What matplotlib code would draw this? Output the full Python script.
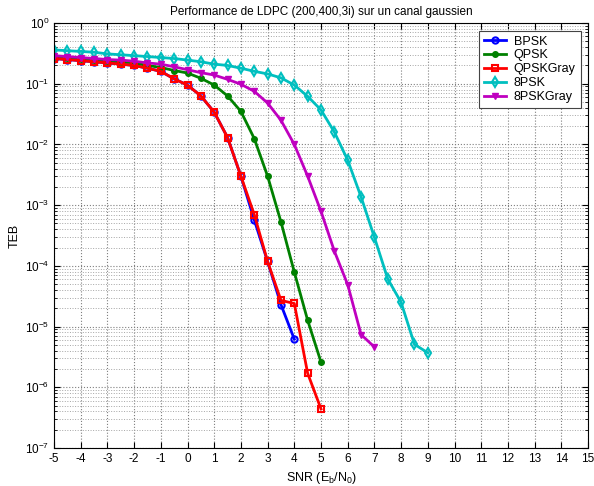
import numpy as np
import matplotlib
matplotlib.use("Agg")
import matplotlib.pyplot as plt

plt.rcParams['font.family'] = ['Liberation Sans', 'DejaVu Sans']
plt.rcParams['mathtext.default'] = 'regular'

snr_bpsk = [-5, -4.5, -4, -3.5, -3, -2.5, -2, -1.5, -1, -0.5, 0, 0.5, 1, 1.5, 2, 2.5, 3, 3.5, 4]
teb_bpsk = [0.26, 0.25, 0.24, 0.23, 0.22, 0.21, 0.2, 0.18, 0.16, 0.12, 0.095, 0.063, 0.034, 0.013,
            3.0e-3, 5.7e-4, 1.18e-4, 2.3e-5, 6.2e-6]

snr_qpsk = [-5, -4.5, -4, -3.5, -3, -2.5, -2, -1.5, -1, -0.5, 0, 0.5, 1, 1.5, 2, 2.5, 3, 3.5, 4, 4.5, 5]
teb_qpsk = [0.28, 0.27, 0.26, 0.25, 0.24, 0.23, 0.22, 0.2, 0.185, 0.165, 0.15, 0.123, 0.095, 0.063,
            0.035, 0.0125, 3.0e-3, 5.3e-4, 7.9e-5, 1.27e-5, 2.6e-6]

snr_qpskgray = [-5, -4.5, -4, -3.5, -3, -2.5, -2, -1.5, -1, -0.5, 0, 0.5, 1, 1.5, 2, 2.5, 3, 3.5, 4, 4.5, 5]
teb_qpskgray = [0.26, 0.25, 0.24, 0.23, 0.22, 0.21, 0.2, 0.18, 0.16, 0.12, 0.095, 0.063, 0.034, 0.013,
                3.0e-3, 7.0e-4, 1.18e-4, 2.7e-5, 2.4e-5, 1.7e-6, 4.4e-7]

snr_8psk = [-5, -4.5, -4, -3.5, -3, -2.5, -2, -1.5, -1, -0.5, 0, 0.5, 1, 1.5, 2, 2.5, 3, 3.5, 4,
            4.5, 5, 5.5, 6, 6.5, 7, 7.5, 8, 8.5, 9]
teb_8psk = [0.36, 0.35, 0.34, 0.33, 0.31, 0.30, 0.29, 0.28, 0.27, 0.26, 0.245, 0.23, 0.21, 0.20,
            0.18, 0.16, 0.145, 0.125, 0.095, 0.062, 0.037, 0.016, 5.5e-3, 1.37e-3, 2.95e-4,
            6.1e-5, 2.5e-5, 5.1e-6, 3.7e-6]

snr_8pskgray = [-5, -4.5, -4, -3.5, -3, -2.5, -2, -1.5, -1, -0.5, 0, 0.5, 1, 1.5, 2, 2.5, 3, 3.5, 4,
                4.5, 5, 5.5, 6, 6.5, 7]
teb_8pskgray = [0.29, 0.28, 0.27, 0.26, 0.25, 0.245, 0.235, 0.22, 0.21, 0.19, 0.17, 0.152, 0.139,
                0.118, 0.098, 0.075, 0.048, 0.025, 0.01, 3.0e-3, 7.9e-4, 1.75e-4, 4.9e-5, 7.4e-6, 4.6e-6]

x_ticks = list(range(-5, 16))
title = "Performance de LDPC (200,400,3i) sur un canal gaussien"

fig = plt.figure(figsize=(5.94, 4.86), dpi=100)
ax = fig.add_axes([54/594, 1 - 448/486, 534/594, 425/486])

lw = 2
ax.semilogy(snr_bpsk, teb_bpsk, '-o', color=(0, 0, 1), lw=lw, ms=4.5, mfc='none', mew=1.5, label='BPSK')
ax.semilogy(snr_qpsk, teb_qpsk, '-o', color=(0, 0.5, 0), lw=lw, ms=4, mfc=(0, 0.5, 0), label='QPSK')
ax.semilogy(snr_qpskgray, teb_qpskgray, '-s', color=(1, 0, 0), lw=lw, ms=4.5, mfc='none', mew=1.5, label='QPSKGray')
ax.semilogy(snr_8psk, teb_8psk, '-d', color=(0, 0.75, 0.75), lw=lw, ms=5, mfc='none', mew=1.5, label='8PSK')
ax.semilogy(snr_8pskgray, teb_8pskgray, '-v', color=(0.75, 0, 0.75), lw=lw, ms=5, mfc=(0.75, 0, 0.75), label='8PSKGray')

ax.set_xlim(-5, 15)
ax.set_ylim(1e-7, 1)
ax.set_xticks(x_ticks)
ax.set_xticklabels([str(t) for t in x_ticks])
ax.set_yticks([10.0**k for k in range(-7, 1)])
ax.yaxis.set_minor_locator(matplotlib.ticker.LogLocator(base=10, subs=np.arange(2, 10), numticks=20))
ax.yaxis.set_minor_formatter(matplotlib.ticker.NullFormatter())

ax.grid(True, which='major', linestyle=':', color='#7f7f7f', lw=0.8)
ax.grid(True, which='minor', axis='y', linestyle=':', color='#a5a5a5', lw=0.7)
ax.tick_params(which='both', direction='in', top=True, right=True, labelsize=8.5)
ax.tick_params(which='major', length=4)
ax.tick_params(which='minor', length=2)
for s in ax.spines.values():
    s.set_linewidth(0.8)

ax.set_title(title, fontsize=8.5, pad=6)
ax.set_xlabel('SNR (E$_b$/N$_0$)', fontsize=9, labelpad=4)
ax.set_ylabel('TEB', fontsize=9, labelpad=3)

leg = ax.legend(loc='upper right', fontsize=9, fancybox=False, edgecolor='#444444',
                framealpha=1, borderpad=0.4, labelspacing=0.15, handlelength=1.8,
                handletextpad=0.6, borderaxespad=0.6)
leg.get_frame().set_linewidth(0.8)

fig.savefig('out.png', dpi=100)
